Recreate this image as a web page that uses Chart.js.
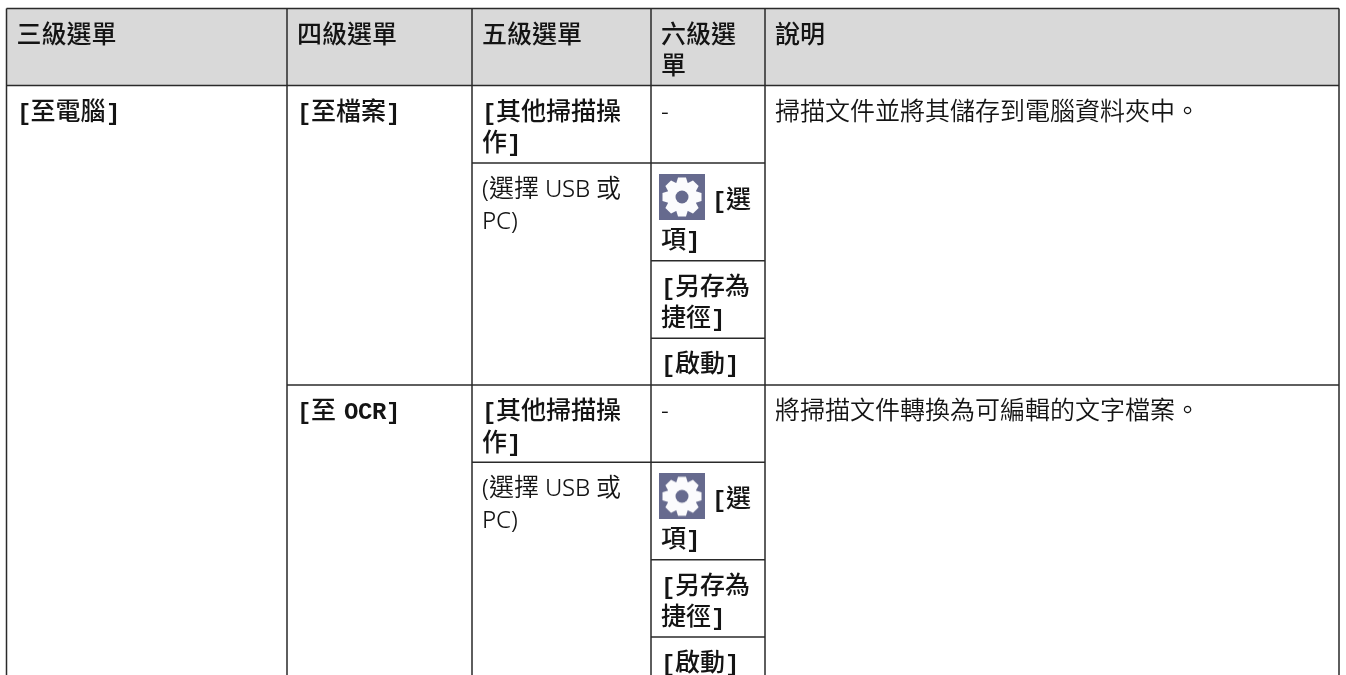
<!DOCTYPE html>
<html><head><meta charset="utf-8">
<style>
html,body{margin:0;padding:0;background:#fff}#w{width:1346px;height:675px;position:relative}canvas{display:block}
@font-face{font-family:'TblMono';src:local('Liberation Mono Bold'),local('LiberationMono-Bold');size-adjust:96%}
@font-face{font-family:'TblSans';src:local('Open Sans Regular'),local('OpenSans-Regular'),local('Open Sans');size-adjust:96%}
</style>
<script src="https://cdn.jsdelivr.net/npm/chart.js@4"></script>
</head><body><div id="w"><canvas id="c" width="1346" height="675"></canvas></div>
<script>
// ---- table content ----
const headers = [["三級選單"],["四級選單"],["五級選單"],["六級選","單"],["說明"]];
const level3 = [["[至電腦]"]];
const level4 = [["[至檔案]"],["[至 OCR]"]];
const level5 = [["[其他掃描操","作]"],["(選擇 USB 或","PC)"]];
const level6 = [["-"],["[選","項]"],["[另存為","捷徑]"],["[啟動]"]];
const notes = [["掃描文件並將其儲存到電腦資料夾中。"],["將掃描文件轉換為可編輯的文字檔案。"]];

// ---- table geometry, expressed on the chart's x/y scales ----
const colEdges = [6.5,287,472,651,765,1339];
const rowEdges = [8.5,85.5,163,260.7,338.3,385,462.3,559.7,637,675];

const segH = [[0,0,5],[1,0,5],[2,2,4],[3,3,4],[4,3,4],[5,1,5],[6,2,4],[7,3,4],[8,3,4]];
const segV = [[0,0,9],[1,0,9],[2,0,9],[3,0,9],[4,0,9],[5,0,9]];

const borderDatasets = [
  ...segH.map(([r,a,b])=>({data:[{x:colEdges[a],y:rowEdges[r]},{x:colEdges[b],y:rowEdges[r]}]})),
  ...segV.map(([c,a,b])=>({data:[{x:colEdges[c],y:rowEdges[a]},{x:colEdges[c],y:rowEdges[b]}]}))
].map(d=>({...d,type:'line',borderColor:'#2a2a2a',borderWidth:1.5,pointRadius:0,tension:0,order:1}));

// cells: [lines, column, row, style]
const cells = [];
headers.forEach((t,i)=>cells.push([t,i,0,'head']));
cells.push([level3[0],0,1,'bold']);
cells.push([level4[0],1,1,'bold']);
cells.push([level4[1],1,5,'bold']);
[1,5].forEach(r=>{
  cells.push([level5[0],2,r,'bold']);
  cells.push([level5[1],2,r+1,'reg']);
  cells.push([level6[0],3,r,'reg']);
  cells.push([level6[1],3,r+1,'icon']);
  cells.push([level6[2],3,r+2,'bold']);
  cells.push([level6[3],3,r+3,'bold']);
});
cells.push([notes[0],4,1,'reg']);
cells.push([notes[1],4,5,'reg']);

const CJK = "'Noto Sans CJK TC'";
const fonts = {
  head:`500 25px ${CJK}`,
  bold:`500 25px 'TblMono','Liberation Mono',${CJK}`,
  icon:`500 25px 'TblMono','Liberation Mono',${CJK}`,
  reg:`350 25px 'TblSans','Open Sans',${CJK}`
};

// gear icon used as a point style
function gearIcon(){
  const s=46,cv=document.createElement('canvas');cv.width=cv.height=s;
  const g=cv.getContext('2d');
  g.fillStyle='#666a8e';g.fillRect(0,0,s,s);
  g.translate(s/2,s/2);
  g.fillStyle='#fbfbfd';
  for(let i=0;i<8;i++){g.save();g.rotate(i*Math.PI/4);
    g.beginPath();g.moveTo(-6,-13);g.lineTo(-4,-19.5);g.lineTo(4,-19.5);g.lineTo(6,-13);g.closePath();g.fill();g.restore();}
  g.beginPath();g.arc(0,0,15,0,Math.PI*2);g.fill();
  g.fillStyle='#666a8e';g.beginPath();g.arc(0,0,6.5,0,Math.PI*2);g.fill();
  return cv;
}
const gear = gearIcon();

const tableText = {
  id:'tableText',
  afterDatasetsDraw(chart){
    const {ctx,scales:{x,y}}=chart;
    ctx.save();ctx.textBaseline='alphabetic';ctx.textAlign='left';ctx.fillStyle='#141414';
    cells.forEach(([lines,c,r,st])=>{
      const left=x.getPixelForValue(colEdges[c])+10, top=y.getPixelForValue(rowEdges[r]);
      ctx.font=fonts[st];
      ctx.wordSpacing=st==='bold'?'-6px':'0px';
      lines.forEach((t,i)=>{
        let bx=left,by=top+34+i*31.5;
        if(st==='icon'){ by=top+(i===0?45:85); if(i===0) bx=left+51; }
        ctx.fillText(t,bx,by);
      });
    });
    ctx.restore();
  }
};

const headerFill = {
  type:'line',
  data:[{x:colEdges[0],y:rowEdges[0]},{x:colEdges[5],y:rowEdges[0]}],
  borderWidth:0,pointRadius:0,backgroundColor:'#d9d9d9',fill:{value:rowEdges[1]},order:5
};
const icons = {
  type:'scatter',
  data:[1,5].map(r=>({x:colEdges[3]+31,y:rowEdges[r+1]+34})),
  pointStyle:gear,pointRadius:23,order:0
};

const chart = new Chart(document.getElementById('c'),{
  type:'scatter',
  data:{datasets:[headerFill,...borderDatasets,icons]},
  options:{
    responsive:false,animation:false,
    layout:{padding:0,autoPadding:false},
    plugins:{legend:{display:false},tooltip:{enabled:false},title:{display:false}},
    scales:{
      x:{type:'linear',min:0,max:1346,display:false},
      y:{type:'linear',min:0,max:675,reverse:true,display:false}
    }
  },
  plugins:[tableText]
});
Promise.allSettled([document.fonts.load("25px TblMono","[OCR]"),document.fonts.load("25px TblSans","USB")]).then(()=>chart.render());
</script></body></html>
